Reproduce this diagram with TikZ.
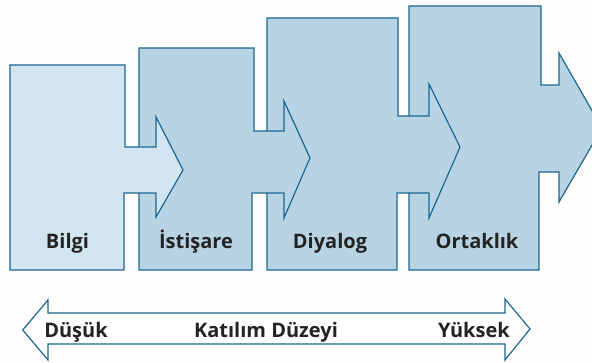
\documentclass[tikz,border=0pt]{standalone}
\usepackage{fontspec}
\setmainfont{Open Sans}
\definecolor{pagebg}{RGB}{255,252,252}
\definecolor{edgeblue}{RGB}{27,102,144}
\definecolor{paleblue}{RGB}{211,229,241}
\definecolor{midblue}{RGB}{184,212,228}
\definecolor{labelgray}{RGB}{35,35,35}
\begin{document}
\begin{tikzpicture}[x=1pt, y=-1pt,
  stage/.style={draw=edgeblue, line width=1.2pt, line join=miter},
  stagelabel/.style={anchor=base, font=\bfseries\fontsize{20pt}{20pt}\selectfont, text=labelgray, inner sep=0pt}]
\fill[pagebg] (0,0) rectangle (592,363);
\clip (0,0) rectangle (592,363);
\draw[stage, fill=midblue] (409,6) -- (541,6) -- (541,85) -- (559,85) -- (559,53) -- (602,128) -- (559,202) -- (559,172) -- (539,172) -- (539,270) -- (409,270) -- cycle;
\draw[stage, fill=midblue] (267,18) -- (398,18) -- (398,116) -- (429,116) -- (429,84) -- (460,147) -- (429,218) -- (429,193) -- (397,193) -- (397,270) -- (267,270) -- cycle;
\draw[stage, fill=midblue] (139,48) -- (254,48) -- (254,131) -- (284,131) -- (284,101) -- (310,158) -- (284,218) -- (284,193) -- (252,193) -- (252,270) -- (139,270) -- cycle;
\draw[stage, fill=paleblue] (10,65) -- (125,65) -- (125,147) -- (156,147) -- (156,117) -- (183,170) -- (156,217) -- (156,193) -- (124,193) -- (124,270) -- (10,270) -- cycle;
\node[stagelabel] (bilgi) at (67.5, 248.5) {Bilgi};
\node[stagelabel] (istisare) at (196, 248.5) {İstişare};
\node[stagelabel] (diyalog) at (330, 248.5) {Diyalog};
\node[stagelabel] (ortaklik) at (477, 248.5) {Ortaklık};
\draw[stage, fill=white] (22.7,330) -- (48,300) -- (48,313) -- (505,313) -- (505,299) -- (530,329) -- (505,360) -- (505,344) -- (48,344) -- (48,360) -- cycle;
\node[stagelabel] (dusuk) at (76, 337.5) {Düşük};
\node[stagelabel] (duzey) at (266, 337.5) {Katılım Düzeyi};
\node[stagelabel] (yuksek) at (474, 337.5) {Yüksek};
\end{tikzpicture}
\end{document}
